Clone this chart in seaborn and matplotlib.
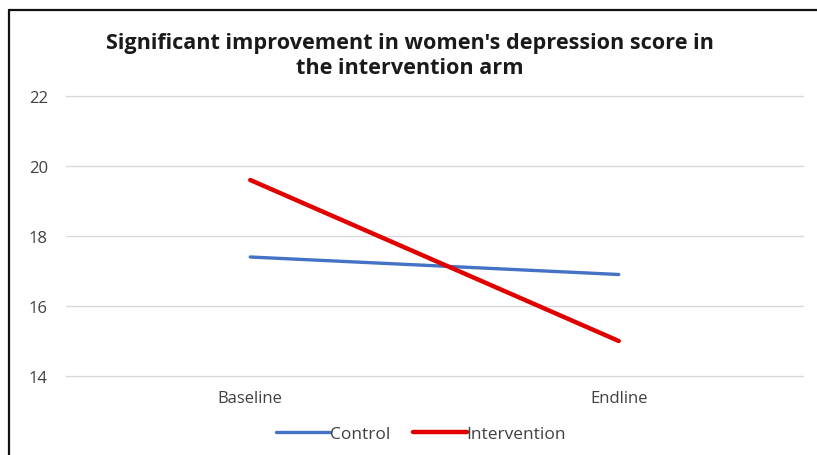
import matplotlib
matplotlib.use("Agg")
import matplotlib.pyplot as plt
from matplotlib.lines import Line2D
import pandas as pd
import seaborn as sns

# Mean depression scores by survey round and study arm
timepoints = ["Baseline", "Endline"]
control = [17.4, 16.9]
intervention = [19.6, 15.0]
series_names = ["Control", "Intervention"]
y_ticks = [14, 16, 18, 20, 22]

df = pd.DataFrame({
    "Round": timepoints * 2,
    "Score": control + intervention,
    "Arm": [series_names[0]] * 2 + [series_names[1]] * 2,
})

sns.set_theme(style="white")
plt.rcParams["font.family"] = ["Open Sans", "DejaVu Sans"]

fig = plt.figure(figsize=(8.17, 4.56), dpi=100)
ax = fig.add_axes([66 / 817, 1 - 377 / 456, (803 - 66) / 817, (377 - 97) / 456])

palette = {"Control": "#4472C4", "Intervention": "#E00000"}
widths = {"Control": 2.4, "Intervention": 3.2}
sns.lineplot(data=df, x="Round", y="Score", hue="Arm", palette=palette,
             ax=ax, legend=False, sort=False)
for line, name in zip(ax.lines, series_names):
    line.set_linewidth(widths[name])
    line.set_solid_capstyle("round")

ax.set_xlim(-0.5, 1.5)
ax.set_ylim(14, 22)
ax.set_yticks(y_ticks)
ax.yaxis.grid(True, color="#D9D9D9", linewidth=1.0)
for gl in ax.get_ygridlines():
    gl.set_clip_on(False)
ax.set_axisbelow(True)
for s in ax.spines.values():
    s.set_visible(False)
ax.set_xlabel("")
ax.set_ylabel("")
ax.tick_params(axis="both", length=0, labelsize=12, labelcolor="#404040")
ax.tick_params(axis="y", pad=13)
ax.tick_params(axis="x", pad=10)

fig.text(0.502, 1 - 56 / 456,
         "Significant improvement in women's depression score in\nthe intervention arm",
         ha="center", va="center", fontsize=15.6, fontweight="bold",
         color="#1a1a1a", linespacing=1.2)

handles = [Line2D([0], [0], color=palette[n], lw=widths[n], solid_capstyle="round")
           for n in series_names]
fig.legend(handles, series_names, loc="center", bbox_to_anchor=(421 / 817, 1 - 435 / 456),
           ncol=2, frameon=False, fontsize=12.5, handlelength=3.1,
           handletextpad=0.0, columnspacing=1.3, labelcolor="#404040")

# Frame edges along the top and left of the canvas
fig.add_artist(Line2D([9 / 817, 1.0], [1 - 11 / 456, 1 - 11 / 456],
                      transform=fig.transFigure, color="#111111", lw=1.6))
fig.add_artist(Line2D([9 / 817, 9 / 817], [1 - 11 / 456, 0.0],
                      transform=fig.transFigure, color="#111111", lw=1.6))

fig.savefig("out.png", dpi=100, facecolor="white")
